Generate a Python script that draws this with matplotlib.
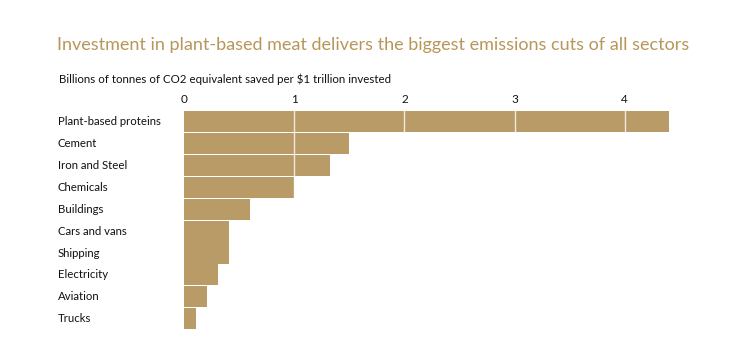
import matplotlib
matplotlib.use("Agg")
import matplotlib.pyplot as plt

categories = ["Plant-based proteins", "Cement", "Iron and Steel", "Chemicals", "Buildings",
              "Cars and vans", "Shipping", "Electricity", "Aviation", "Trucks"]
values = [4.40, 1.50, 1.32, 1.00, 0.60, 0.41, 0.41, 0.31, 0.21, 0.11]
xticks = [0, 1, 2, 3, 4]
title = "Investment in plant-based meat delivers the biggest emissions cuts of all sectors"
subtitle = "Billions of tonnes of CO2 equivalent saved per $1 trillion invested"

plt.rcParams['font.family'] = ['Lato', 'DejaVu Sans']

W, H = 746, 356
fig = plt.figure(figsize=(W / 100, H / 100), dpi=100)
fig.patch.set_facecolor("white")

left = 184.3 / W
right = 668.7 / W
top = 1 - 110.6 / H
bottom = 1 - 329.7 / H
ax = fig.add_axes([left, bottom, right - left, top - bottom])

bar_color = "#B89B67"
ypos = list(range(len(categories)))
ax.barh(ypos, values, height=0.96, color=bar_color, edgecolor="none", zorder=1)
ax.set_xlim(0, 4.40)
ax.set_ylim(len(categories) - 0.5, -0.5)

for t in xticks[1:]:
    ax.axvline(t, color="white", lw=1.0, alpha=0.8, zorder=3)

ax.set_xticks(xticks)
ax.set_xticklabels([str(t) for t in xticks])
ax.xaxis.tick_top()
ax.tick_params(axis="x", length=0, pad=4, labelsize=8.5, labelcolor="#111111")
ax.set_yticks([])
for s in ax.spines.values():
    s.set_visible(False)

for i, c in enumerate(categories):
    ax.text(58 / W, 1 - (110.6 + (i + 0.5) * 21.91) / H, c, transform=fig.transFigure,
            ha="left", va="center", fontsize=8.2, color="#111111")

fig.text(373 / W, 1 - 45 / H, title, ha="center", va="center", fontsize=13.0, color="#B8965A")
fig.text(59 / W, 1 - 79 / H, subtitle, ha="left", va="center", fontsize=8.3, color="#111111")

fig.savefig("out.png", dpi=100, facecolor="white")
